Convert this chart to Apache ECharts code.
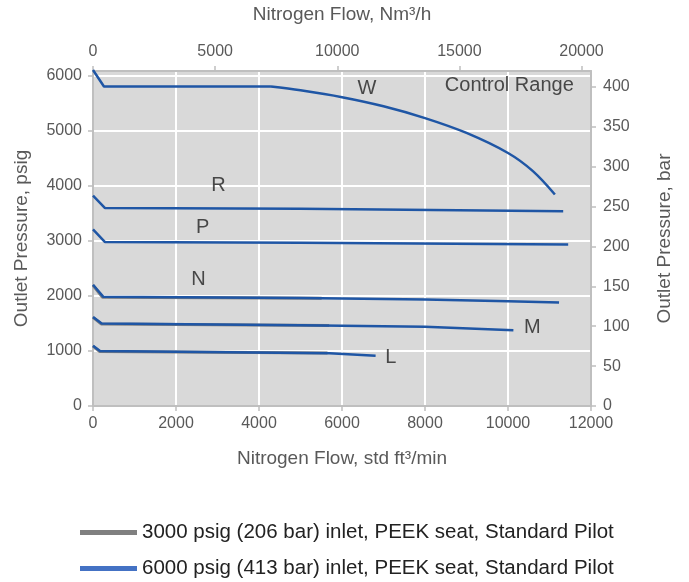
<!DOCTYPE html>
<html>
<head>
<meta charset="utf-8">
<script src="https://cdn.jsdelivr.net/npm/echarts@6/dist/echarts.min.js"></script>
<style>html,body{margin:0;padding:0;background:#fff}#c{width:689px;height:582px}</style>
</head>
<body>
<div id="c"></div>
<script>
// ---- data (x: std ft3/min, y: psig) ----
const curveW = [[0,6110],[264,5810],[4288,5810],[5000,5740],[6000,5615],[7000,5450],[8000,5235],[9000,4965],[10000,4600],[10600,4270],[11130,3845]];
const curveR = [[0,3825],[290,3600],[5000,3585],[11330,3540]];
const curveP = [[0,3210],[290,2980],[5000,2970],[11450,2935]];
const curveN = [[0,2205],[250,1985],[5000,1965],[8000,1935],[10000,1905],[11230,1880]];
const curveM = [[0,1620],[210,1500],[5000,1470],[8000,1440],[10130,1378]];
const curveL = [[0,1095],[170,1000],[5700,958],[6810,912]];
const grayN = [[0,2195],[230,1978],[5510,1960]];
const grayM = [[0,1612],[195,1492],[5690,1462]];
const grayL = [[0,1088],[155,993],[5650,963]];
const curveLabels = [
  {name:'W', value:[6600,5765]},
  {name:'R', value:[3024,4007]},
  {name:'P', value:[2640,3245]},
  {name:'N', value:[2544,2302]},
  {name:'M', value:[10584,1432]},
  {name:'L', value:[7176,888]},
  {name:'Control Range', value:[10032,5820]}
];
const scfmTicks = [0,2000,4000,6000,8000,10000,12000];
const psigTicks = [0,1000,2000,3000,4000,5000,6000];
const barTicks = [0,50,100,150,200,250,300,350,400];
const nm3Ticks = [0,5000,10000,15000,20000];
const SCFM_MAX = 12000;
const NM3_PER_SCFM = 1.699;
const BAR_MAX = 420;
const PSI_PER_BAR = 14.5038;
const name3000 = '3000 psig (206 bar) inlet, PEEK seat, Standard Pilot';
const name6000 = '6000 psig (413 bar) inlet, PEEK seat, Standard Pilot';

const FONT = '"Liberation Sans", Arial, sans-serif';
const axisGray = '#bfbfbf';
const labelGray = '#595959';
const BLUE = '#1f56a5';
const GRAY = '#7f7f7f';
const plain = v => String(Math.round(v));

function tickStyle(vals){
  return {show:true, inside:false, length:5, lineStyle:{color:axisGray, width:1.5}, customValues:vals};
}
function labelStyle(vals, margin){
  return {color:labelGray, fontSize:16, fontFamily:FONT, margin:margin, customValues:vals, formatter:plain};
}
function axisCommon(){
  return {
    type:'value',
    axisLine:{show:true, onZero:false, lineStyle:{color:axisGray, width:2}},
    nameLocation:'middle',
    nameTextStyle:{color:labelGray, fontSize:19, fontFamily:FONT}
  };
}

const series = [];
[grayN, grayM, grayL].forEach(c => series.push({
  type:'line', name:name3000, data:c, xAxisIndex:0, yAxisIndex:0,
  showSymbol:false, symbol:'none', clip:false, silent:true,
  lineStyle:{color:GRAY, width:3}, itemStyle:{color:GRAY}, z:2
}));
// W: straight drop + flat part, then a smooth falling curve
const wStraight = curveW.slice(0, 3);
const wCurve = curveW.slice(2);
[wStraight, curveR, curveP, curveN, curveM, curveL].forEach(c => series.push({
  type:'line', name:name6000, data:c, xAxisIndex:0, yAxisIndex:0,
  showSymbol:false, symbol:'none', clip:false, silent:true,
  lineStyle:{color:BLUE, width:2.5}, itemStyle:{color:BLUE}, z:3
}));
series.push({
  type:'line', name:name6000, data:wCurve, xAxisIndex:0, yAxisIndex:0,
  showSymbol:false, symbol:'none', clip:false, silent:true, smooth:0.35,
  lineStyle:{color:BLUE, width:2.5}, itemStyle:{color:BLUE}, z:3
});
series.push({
  type:'scatter', name:'labels', data:curveLabels, xAxisIndex:0, yAxisIndex:0,
  symbolSize:1, itemStyle:{color:'rgba(0,0,0,0)'}, silent:true, z:4,
  label:{show:true, position:'inside', formatter:p=>p.data.name, color:'#222', fontSize:20, fontFamily:FONT}
});

const legendText = {fontSize:20.5, color:'#222', fontFamily:FONT};
const option = {
  animation:false,
  textStyle:{fontFamily:FONT},
  grid:{left:93, right:98, top:70, bottom:176, show:true, backgroundColor:'#d9d9d9', borderWidth:0},
  legend:[
    {left:80, top:522, itemWidth:57, itemHeight:5, icon:'rect', padding:0, textStyle:legendText,
     data:[{name:name3000, itemStyle:{color:'#808080'}}]},
    {left:80, top:558, itemWidth:57, itemHeight:5, icon:'rect', padding:0, textStyle:legendText,
     data:[{name:name6000, itemStyle:{color:'#4472c4'}}]}
  ],
  xAxis:[
    Object.assign(axisCommon(), {
      position:'bottom', min:0, max:SCFM_MAX, interval:2000,
      name:'Nitrogen Flow, std ft³/min', nameGap:43,
      axisLabel:labelStyle(scfmTicks, 10),
      axisTick:tickStyle(scfmTicks),
      splitLine:{show:true, lineStyle:{color:'#ffffff', width:2}}
    }),
    Object.assign(axisCommon(), {
      position:'top', min:0, max:SCFM_MAX*NM3_PER_SCFM,
      name:'Nitrogen Flow, Nm³/h', nameGap:47,
      axisLabel:labelStyle(nm3Ticks, 11),
      axisTick:tickStyle(nm3Ticks),
      splitLine:{show:false}
    })
  ],
  yAxis:[
    Object.assign(axisCommon(), {
      position:'left', min:0, max:BAR_MAX*PSI_PER_BAR, interval:1000,
      name:'Outlet Pressure, psig', nameGap:62,
      axisLabel:labelStyle(psigTicks, 11),
      axisTick:tickStyle(psigTicks),
      splitLine:{show:true, lineStyle:{color:'#ffffff', width:2}}
    }),
    Object.assign(axisCommon(), {
      position:'right', min:0, max:BAR_MAX,
      name:'Outlet Pressure, bar', nameGap:64,
      axisLabel:labelStyle(barTicks, 12),
      axisTick:tickStyle(barTicks),
      splitLine:{show:false}
    })
  ],
  series:series
};
const chart = echarts.init(document.getElementById('c'), null, {renderer:'canvas'});
chart.setOption(option);
</script>
</body>
</html>
